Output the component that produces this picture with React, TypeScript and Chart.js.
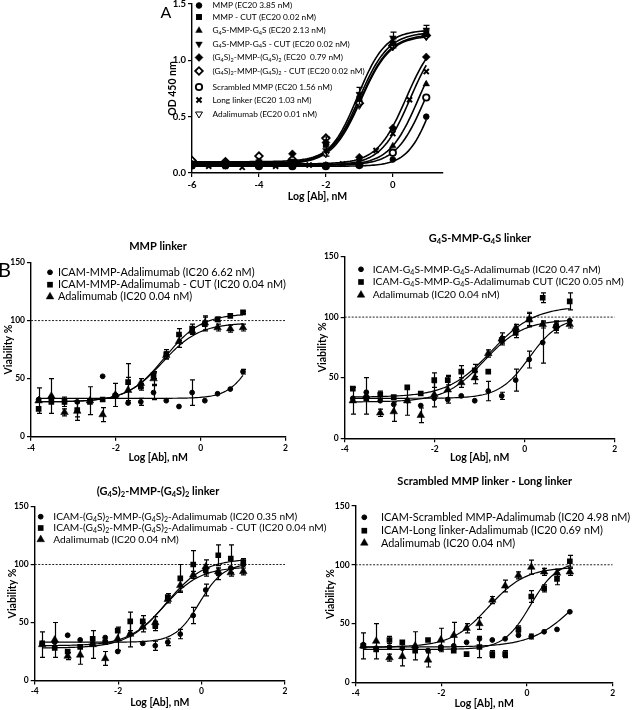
import React, { useEffect, useRef } from "react";
import { Chart, registerables } from "chart.js";
import { drawPoint } from "chart.js/helpers";

Chart.register(...registerables);

const FONT = "Lato, 'Open Sans', 'DejaVu Sans', sans-serif";

// ---------------- Panel A (OD 450 nm) ----------------
const aDoses = [-6, -5, -4, -3, -2, -1, 0, 1];
const aDosesLong = [-6, -5.5, -5, -4.5, -4, -3.5, -3, -2.5, -2, -1.5, -1, -0.5, 0, 0.5, 1];
const aXTicks = [-6, -4, -2, 0];
const aYTicks = [0, 0.5, 1.0, 1.5];

const aMMP = [0.06, 0.06, 0.06, 0.06, 0.06, 0.07, 0.12, 0.5];
const aMMPCut = [0.08, 0.08, 0.09, 0.1, 0.25, 0.66, 1.15, 1.24];
const aMMPCutErr = [0, 0, 0, 0, 0.07, 0.05, 0.04, 0.03];
const aG4S = [0.07, 0.07, 0.07, 0.07, 0.07, 0.08, 0.24, 0.79];
const aG4SCut = [0.09, 0.09, 0.1, 0.1, 0.2, 0.7, 1.2, 1.27];
const aG4SCutErr = [0, 0, 0, 0, 0.05, 0.06, 0.05, 0.04];
const aG4S2 = [0.08, 0.09, 0.1, 0.17, 0.27, 0.14, 0.4, 1.03];
const aG4S2Cut = [0.11, 0.1, 0.15, 0.12, 0.31, 0.62, 1.13, 1.22];
const aScrambled = [0.07, 0.07, 0.06, 0.06, 0.06, 0.07, 0.18, 0.67];
const aLong = [0.06, 0.06, 0.06, 0.05, 0.06, 0.06, 0.06, 0.07, 0.07, 0.08, 0.1, 0.2, 0.35, 0.65, 0.9];
const aAda = [0.08, 0.08, 0.08, 0.09, 0.17, 0.6, 1.12, 1.21];

// fitted 4PL curves: [bottom, top, logEC50, hill]
const aFitMMP = [0.06, 1.25, 1.24, 1.15];
const aFitMMPCut = [0.08, 1.25, -1.0, 1.0];
const aFitG4S = [0.07, 1.25, 0.77, 1.0];
const aFitG4SCut = [0.09, 1.27, -1.05, 1.05];
const aFitG4S2 = [0.08, 1.25, 0.4, 1.0];
const aFitG4S2Cut = [0.1, 1.23, -0.95, 1.0];
const aFitScrambled = [0.07, 1.25, 0.97, 1.0];
const aFitLong = [0.07, 1.25, 0.52, 1.0];
const aFitAda = [0.08, 1.22, -0.95, 1.0];

// ---------------- Panel B (Viability %) ----------------
const bDoses = [-3.82, -3.52, -3.21, -2.91, -2.61, -2.31, -2.01, -1.71, -1.41, -1.11, -0.81, -0.51, -0.2, 0.1, 0.4, 0.7, 1.0];
const bXTicks = [-4, -2, 0, 2];
const bYTicks = [0, 50, 100, 150];

const bAda = [31, 35, 21, 22, 31, 19, 36, 40, 46, 50, 70, 82, 91, 98, 94, 93, 94];
const bAdaErr = [11, 15, 3, 8, 12, 6, 10, 11, 4, 5, 3, 5, 3, 6, 3, 3, 3];
const bFitAda = [30, 98, -0.9, 1.0];

const bMMP = [32, 34, 30, 30, 31, 52, 36, 29, 30, 38, 31, 26, 38, 31, 37, 41, 56];
const bMMPErr = [0, 0, 0, 0, 0, 0, 0, 0, 3, 6, 0, 0, 11, 0, 0, 0, 2];
const bMMPCut = [24, 30, 30, 23, 30, 32, 35, 47, 43, 53, 71, 88, 93, 97, 101, 104, 107];
const bMMPCutErr = [0, 0, 4, 6, 0, 0, 0, 16, 3, 3, 4, 5, 4, 6, 2, 1, 1];
const bFitMMP = [33, 100, 1.25, 1.5];
const bFitMMPCut = [30, 106, -0.85, 1.0];

const bG4S = [33, 38, 31, 28, 31, 27, 33, 32, 35, 31, 39, 35, 48, 65, 79, 92, 97];
const bG4SErr = [0, 0, 0, 0, 0, 0, 0, 0, 0, 0, 8, 3, 9, 7, 17, 5, 0];
const bG4SCut = [41, 33, 36, 34, 42, 37, 48, 48, 55, 56, 55, 81, 87, 98, 116, 92, 113];
const bG4SCutErr = [0, 0, 3, 0, 0, 0, 6, 4, 5, 5, 0, 3, 4, 5, 4, 3, 7];
const bFitG4S = [33, 100, 0.1, 1.3];
const bFitG4SCut = [34, 109, -0.75, 0.9];

const bG4S2 = [32, 33, 39, 35, 32, 37, 25, 40, 32, 30, 33, 40, 56, 78, 92, 97, 100];
const bG4S2Err = [0, 0, 0, 0, 0, 0, 0, 0, 0, 4, 3, 4, 7, 5, 5, 0, 0];
const bG4S2Cut = [32, 28, 25, 29, 36, 33, 43, 51, 51, 47, 72, 88, 100, 95, 108, 105, 102];
const bG4S2CutErr = [0, 0, 0, 0, 0, 0, 0, 8, 5, 4, 3, 12, 12, 5, 9, 12, 3];
const bFitG4S2 = [33, 101, -0.05, 1.5];
const bFitG4S2Cut = [28, 105, -0.85, 0.95];

const bScr = [32, 29, 30, 29, 30, 27, 30, 31, 34, 37, 36, 37, 40, 39, 43, 45, 60];
const bScrErr = [0, 0, 0, 0, 0, 0, 0, 0, 0, 0, 0, 0, 0, 2, 0, 0, 0];
const bLong = [31, 28, 36, 34, 27, 36, 29, 27, 24, 30, 24, 24, 45, 73, 80, 88, 103];
const bLongErr = [0, 0, 3, 0, 0, 0, 0, 0, 0, 9, 3, 3, 3, 5, 3, 5, 5];
const bFitScr = [30, 100, 1.13, 0.85];
const bFitLong = [28, 103, 0.08, 1.4];

const bRefLine = [100, 100];
const bRefX = [-4, 2];

// ---------------- helpers ----------------
type Mk = { style: string; radius: number; rotation?: number; open?: boolean; bw?: number };

const MA: Record<string, Mk> = {
  dot: { style: "circle", radius: 2.8, bw: 1 },
  square: { style: "rect", radius: 4.2, bw: 0 },
  tri: { style: "triangle", radius: 3.8, bw: 0.5 },
  triDown: { style: "triangle", radius: 3.8, rotation: 180, bw: 0.5 },
  diamond: { style: "rectRot", radius: 4, bw: 0.5 },
  diamondOpen: { style: "rectRot", radius: 3.8, open: true, bw: 1.8 },
  ring: { style: "circle", radius: 3.2, open: true, bw: 1.8 },
  cross: { style: "crossRot", radius: 3.6, bw: 2 },
  triOpen: { style: "triangle", radius: 4, rotation: 180, open: true, bw: 1 },
};
const MB: Record<string, Mk> = {
  dot: { style: "circle", radius: 2.4, bw: 1 },
  square: { style: "rect", radius: 4, bw: 0 },
  tri: { style: "triangle", radius: 4.4, bw: 0.5 },
};

function pts(xs: number[], ys: number[]) {
  return xs.map((x, i) => ({ x, y: ys[i] }));
}
function fourPL(fit: number[], x: number) {
  const [b, t, ec, h] = fit;
  return b + (t - b) / (1 + Math.pow(10, (ec - x) * h));
}
function curve(fit: number[], x0: number, x1: number) {
  const out: { x: number; y: number }[] = [];
  const n = 120;
  for (let i = 0; i <= n; i++) {
    const x = x0 + ((x1 - x0) * i) / n;
    out.push({ x, y: fourPL(fit, x) });
  }
  return out;
}
function markerDs(xs: number[], ys: number[], mk: Mk, errs?: number[]) {
  return {
    data: pts(xs, ys),
    showLine: false,
    pointStyle: mk.style,
    pointRadius: mk.radius,
    pointRotation: mk.rotation || 0,
    pointBackgroundColor: mk.open ? "#fff" : "#000",
    pointBorderColor: "#000",
    pointBorderWidth: mk.bw ?? 1,
    errors: errs,
    order: 0,
  };
}
function curveDs(fit: number[], x0: number, x1: number, w = 1.2) {
  return {
    data: curve(fit, x0, x1),
    showLine: true,
    borderColor: "#000",
    borderWidth: w,
    pointRadius: 0,
    order: 2,
  };
}
function refDs() {
  return {
    data: pts(bRefX, bRefLine),
    showLine: true,
    borderColor: "#222",
    borderWidth: 1,
    borderDash: [2, 1.5],
    pointRadius: 0,
    order: 3,
  };
}

// rich text: Unicode subscript digits drawn as small lowered digits
const SUBS = "₀₁₂₃₄₅₆₇₈₉";
function splitRuns(text: string) {
  const runs: { t: string; sub: boolean }[] = [];
  for (const ch of text) {
    const k = SUBS.indexOf(ch);
    const sub = k >= 0;
    const c = sub ? String(k) : ch;
    const last = runs[runs.length - 1];
    if (last && last.sub === sub) last.t += c;
    else runs.push({ t: c, sub });
  }
  return runs;
}
function drawRich(ctx: CanvasRenderingContext2D, text: string, x: number, y: number, size: number, weight: string, align: string) {
  const runs = splitRuns(text);
  const fMain = `${weight} ${size}px ${FONT}`;
  const fSub = `${weight} ${size * 0.68}px ${FONT}`;
  let total = 0;
  const widths = runs.map((r) => {
    ctx.font = r.sub ? fSub : fMain;
    const w = ctx.measureText(r.t).width;
    total += w;
    return w;
  });
  let cx = align === "center" ? x - total / 2 : align === "right" ? x - total : x;
  ctx.textAlign = "left";
  runs.forEach((r, i) => {
    ctx.font = r.sub ? fSub : fMain;
    ctx.fillText(r.t, cx, r.sub ? y + size * 0.3 : y);
    cx += widths[i];
  });
}

type TextItem = { text: string; x: number; y: number; size: number; weight?: string; align?: string };
type LegendCfg = { mx: number; tx: number; rows: number[]; size: number; items: { label: string; mk: Mk }[] };
type Decor = { texts: TextItem[]; legend: LegendCfg; cap: number };

function makeDecor(d: Decor) {
  return {
    id: "decor",
    afterDatasetsDraw(chart: any) {
      const ctx = chart.ctx as CanvasRenderingContext2D;
      const xs = chart.scales.x;
      const ys = chart.scales.y;
      chart.data.datasets.forEach((ds: any) => {
        const errs: number[] | undefined = ds.errors;
        if (!errs) return;
        ctx.save();
        ctx.strokeStyle = "#000";
        ctx.lineWidth = 1.2;
        ds.data.forEach((p: any, j: number) => {
          const e = errs[j];
          if (!e) return;
          const px = Math.round(xs.getPixelForValue(p.x)) + 0.5;
          const y1 = ys.getPixelForValue(p.y + e);
          const y2 = ys.getPixelForValue(p.y - e);
          ctx.beginPath();
          ctx.moveTo(px, y1);
          ctx.lineTo(px, y2);
          ctx.moveTo(px - d.cap, y1);
          ctx.lineTo(px + d.cap, y1);
          ctx.moveTo(px - d.cap, y2);
          ctx.lineTo(px + d.cap, y2);
          ctx.stroke();
        });
        ctx.restore();
      });
    },
    afterDraw(chart: any) {
      const ctx = chart.ctx as CanvasRenderingContext2D;
      ctx.save();
      ctx.fillStyle = "#000";
      ctx.textBaseline = "middle";
      d.texts.forEach((t) => {
        drawRich(ctx, t.text, t.x, t.y, t.size, t.weight || "normal", t.align || "center");
      });
      const L = d.legend;
      L.items.forEach((it, i) => {
        const y = L.rows[i];
        ctx.fillStyle = it.mk.open ? "#fff" : "#000";
        ctx.strokeStyle = "#000";
        ctx.lineWidth = it.mk.bw ?? 1;
        drawPoint(ctx, { pointStyle: it.mk.style as any, radius: it.mk.radius, rotation: it.mk.rotation || 0, borderWidth: it.mk.bw ?? 1 } as any, L.mx, y);
        ctx.fillStyle = "#000";
        drawRich(ctx, it.label, L.tx, y, L.size, "normal", "left");
      });
      ctx.restore();
    },
  };
}

type PanelCfg = {
  datasets: any[];
  xMin: number;
  xMax: number;
  yMin: number;
  yMax: number;
  xTicks: number[];
  yTicks: number[];
  yFmt: (v: number) => string;
  yTitle: string;
  padTop: number;
  padRight: number;
  yWidth: number;
  xHeight: number;
  yTitlePad: number;
  xTitlePad: number;
  tickSize: number;
  titleSize: number;
  decor: Decor;
};

function buildConfig(c: PanelCfg): any {
  const tickFont = { family: FONT, size: c.tickSize, weight: "bold" as const };
  const titleFont = { family: FONT, size: c.titleSize, weight: "bold" as const };
  const grid = { display: true, drawOnChartArea: false, drawTicks: true, tickLength: 4, color: "#000", lineWidth: 1.2 };
  const border = { display: true, color: "#000", width: 1.4 };
  return {
    type: "scatter",
    data: { datasets: c.datasets },
    options: {
      responsive: false,
      animation: false,
      devicePixelRatio: 1,
      events: [],
      layout: { padding: { left: 0, top: c.padTop, right: c.padRight, bottom: 0 } },
      plugins: { legend: { display: false }, tooltip: { enabled: false }, title: { display: false } },
      scales: {
        x: {
          type: "linear",
          min: c.xMin,
          max: c.xMax,
          afterBuildTicks: (s: any) => {
            s.ticks = c.xTicks.map((v) => ({ value: v }));
          },
          afterFit: (s: any) => {
            s.height = c.xHeight;
          },
          grid,
          border,
          ticks: { color: "#000", font: tickFont, padding: 2, maxRotation: 0, autoSkip: false, callback: (v: any) => String(v) },
          title: { display: true, text: "Log [Ab], nM", color: "#000", font: titleFont, padding: { top: 0, bottom: c.xTitlePad } },
        },
        y: {
          type: "linear",
          min: c.yMin,
          max: c.yMax,
          afterBuildTicks: (s: any) => {
            s.ticks = c.yTicks.map((v) => ({ value: v }));
          },
          afterFit: (s: any) => {
            s.width = c.yWidth;
          },
          grid,
          border,
          ticks: { color: "#000", font: tickFont, padding: 2, autoSkip: false, callback: (v: any) => c.yFmt(Number(v)) },
          title: { display: true, text: c.yTitle, color: "#000", font: titleFont, padding: { top: c.yTitlePad, bottom: 0 } },
        },
      },
    },
    plugins: [makeDecor(c.decor)],
  };
}

function Panel(props: { left: number; top: number; width: number; height: number; cfg: PanelCfg }) {
  const ref = useRef<HTMLCanvasElement>(null);
  useEffect(() => {
    const chart = new Chart(ref.current as HTMLCanvasElement, buildConfig(props.cfg));
    return () => chart.destroy();
  }, []);
  return (
    <canvas
      ref={ref}
      width={props.width}
      height={props.height}
      style={{ position: "absolute", left: props.left, top: props.top, width: props.width, height: props.height }}
    />
  );
}

// ---------------- panel configs ----------------
function panelA(left: number, top: number): PanelCfg {
  const rows = [5.5, 17, 30.5, 44, 57.5, 71, 87, 100, 114].map((y) => y - top);
  return {
    datasets: [
      markerDs(aDoses, aMMP, MA.dot),
      markerDs(aDoses, aMMPCut, MA.square, aMMPCutErr),
      markerDs(aDoses, aG4S, MA.tri),
      markerDs(aDoses, aG4SCut, MA.triDown, aG4SCutErr),
      markerDs(aDoses, aG4S2, MA.diamond),
      markerDs(aDoses, aG4S2Cut, MA.diamondOpen),
      markerDs(aDoses, aScrambled, MA.ring),
      markerDs(aDosesLong, aLong, MA.cross),
      markerDs(aDoses, aAda, MA.triOpen),
      curveDs(aFitMMP, -6, 1, 1.6),
      curveDs(aFitMMPCut, -6, 1, 1.6),
      curveDs(aFitG4S, -6, 1, 1.6),
      curveDs(aFitG4SCut, -6, 1, 1.6),
      curveDs(aFitG4S2, -6, 1, 1.6),
      curveDs(aFitG4S2Cut, -6, 1, 1.6),
      curveDs(aFitScrambled, -6, 1, 1.6),
      curveDs(aFitLong, -6, 1, 1.6),
      curveDs(aFitAda, -6, 1, 1.6),
    ],
    xMin: -6,
    xMax: 1.5,
    yMin: 0,
    yMax: 1.5,
    xTicks: aXTicks,
    yTicks: aYTicks,
    yFmt: (v) => v.toFixed(1),
    yTitle: "OD 450 nm",
    padTop: 4 - top,
    padRight: left + 300 - 443,
    yWidth: 192 - left,
    xHeight: 205 - 173,
    yTitlePad: 16,
    xTitlePad: 2,
    tickSize: 9.5,
    titleSize: 10.5,
    decor: {
      cap: 3,
      texts: [{ text: "A", x: 166 - left, y: 12.5 - top, size: 16 }],
      legend: {
        mx: 199 - left,
        tx: 212.5 - left,
        rows,
        size: 8.3,
        items: [
          { label: "MMP (EC20 3.85 nM)", mk: MA.dot },
          { label: "MMP - CUT (EC20 0.02 nM)", mk: MA.square },
          { label: "G₄S-MMP-G₄S (EC20 2.13 nM)", mk: MA.tri },
          { label: "G₄S-MMP-G₄S - CUT (EC20 0.02 nM)", mk: MA.triDown },
          { label: "(G₄S)₂-MMP-(G₄S)₂ (EC20  0.79 nM)", mk: MA.diamond },
          { label: "(G₄S)₂-MMP-(G₄S)₂ - CUT (EC20 0.02 nM)", mk: MA.diamondOpen },
          { label: "Scrambled MMP (EC20 1.56 nM)", mk: MA.ring },
          { label: "Long linker (EC20 1.03 nM)", mk: MA.cross },
          { label: "Adalimumab (EC20 0.01 nM)", mk: MA.triOpen },
        ],
      },
    },
  };
}

type BOpts = {
  left: number;
  top: number;
  width: number;
  height: number;
  area: { l: number; r: number; t: number; b: number };
  yTitleX: number;
  xTitleY: number;
  title: string;
  titleX: number;
  titleY: number;
  legend: { mx: number; tx: number; rows: number[]; size: number };
  labels: string[];
  s1: number[];
  s1Err: number[];
  fit1: number[];
  s2: number[];
  s2Err: number[];
  fit2: number[];
  extraTexts?: TextItem[];
};

function panelB(o: BOpts): PanelCfg {
  const lh = 12.6;
  return {
    datasets: [
      markerDs(bDoses, o.s1, MB.dot, o.s1Err),
      markerDs(bDoses, o.s2, MB.square, o.s2Err),
      markerDs(bDoses, bAda, MB.tri, bAdaErr),
      curveDs(o.fit1, -3.82, 1.0),
      curveDs(o.fit2, -3.82, 1.0),
      curveDs(bFitAda, -3.82, 1.0),
      refDs(),
    ],
    xMin: -4,
    xMax: 2,
    yMin: 0,
    yMax: 150,
    xTicks: bXTicks,
    yTicks: bYTicks,
    yFmt: (v) => String(v),
    yTitle: "Viability %",
    padTop: o.area.t - o.top,
    padRight: o.left + o.width - o.area.r,
    yWidth: o.area.l - o.left,
    xHeight: o.top + o.height - o.area.b,
    yTitlePad: Math.max(0, o.yTitleX - o.left - lh / 2),
    xTitlePad: Math.max(0, o.top + o.height - o.xTitleY - lh / 2),
    tickSize: 8.5,
    titleSize: 10.5,
    decor: {
      cap: 2.5,
      texts: [
        { text: o.title, x: o.titleX - o.left, y: o.titleY - o.top, size: 11, weight: "bold" },
        ...(o.extraTexts || []).map((t) => ({ ...t, x: t.x - o.left, y: t.y - o.top })),
      ],
      legend: {
        mx: o.legend.mx - o.left,
        tx: o.legend.tx - o.left,
        rows: o.legend.rows.map((y) => y - o.top),
        size: o.legend.size,
        items: [
          { label: o.labels[0], mk: MB.dot },
          { label: o.labels[1], mk: MB.square },
          { label: o.labels[2], mk: MB.tri },
        ],
      },
    },
  };
}

const cfgA = panelA(150, -6);

const cfgTL = panelB({
  left: 0,
  top: 225,
  width: 316,
  height: 240,
  area: { l: 31, r: 285.4, t: 262.5, b: 436.7 },
  yTitleX: 9,
  xTitleY: 458,
  title: "MMP linker",
  titleX: 158,
  titleY: 246,
  legend: { mx: 50, tx: 58, rows: [272.3, 284.7, 296.7], size: 10.9 },
  labels: ["ICAM-MMP-Adalimumab (IC20 6.62 nM)", "ICAM-MMP-Adalimumab - CUT (IC20 0.04 nM)", "Adalimumab (IC20 0.04 nM)"],
  s1: bMMP,
  s1Err: bMMPErr,
  fit1: bFitMMP,
  s2: bMMPCut,
  s2Err: bMMPCutErr,
  fit2: bFitMMPCut,
  extraTexts: [{ text: "B", x: 4.5, y: 271, size: 20 }],
});

const cfgTR = panelB({
  left: 316,
  top: 225,
  width: 320,
  height: 240,
  area: { l: 344.7, r: 614.7, t: 256.5, b: 438.3 },
  yTitleX: 322,
  xTitleY: 458,
  title: "G₄S-MMP-G₄S linker",
  titleX: 480,
  titleY: 238,
  legend: { mx: 361, tx: 372.7, rows: [269.3, 282, 295], size: 10.3 },
  labels: ["ICAM-G₄S-MMP-G₄S-Adalimumab (IC20 0.47 nM)", "ICAM-G₄S-MMP-G₄S-Adalimumab CUT (IC20 0.05 nM)", "Adalimumab (IC20 0.04 nM)"],
  s1: bG4S,
  s1Err: bG4SErr,
  fit1: bFitG4S,
  s2: bG4SCut,
  s2Err: bG4SCutErr,
  fit2: bFitG4SCut,
});

const cfgBL = panelB({
  left: 0,
  top: 465,
  width: 340,
  height: 245,
  area: { l: 34.7, r: 285, t: 506.5, b: 680.5 },
  yTitleX: 13,
  xTitleY: 703,
  title: "(G₄S)₂-MMP-(G₄S)₂ linker",
  titleX: 158,
  titleY: 491.7,
  legend: { mx: 40.7, tx: 53.3, rows: [516.7, 528, 539.5], size: 10.2 },
  labels: [
    "ICAM-(G₄S)₂-MMP-(G₄S)₂-Adalimumab (IC20 0.35 nM)",
    "ICAM-(G₄S)₂-MMP-(G₄S)₂-Adalimumab - CUT (IC20 0.04 nM)",
    "Adalimumab (IC20 0.04 nM)",
  ],
  s1: bG4S2,
  s1Err: bG4S2Err,
  fit1: bFitG4S2,
  s2: bG4S2Cut,
  s2Err: bG4S2CutErr,
  fit2: bFitG4S2Cut,
});

const cfgBR = panelB({
  left: 316,
  top: 465,
  width: 320,
  height: 245,
  area: { l: 355.6, r: 612.7, t: 506, b: 682.3 },
  yTitleX: 331,
  xTitleY: 705,
  title: "Scrambled MMP linker - Long linker",
  titleX: 484.7,
  titleY: 481.7,
  legend: { mx: 364.3, tx: 381, rows: [517.3, 530.7, 543], size: 10.9 },
  labels: ["ICAM-Scrambled MMP-Adalimumab (IC20 4.98 nM)", "ICAM-Long linker-Adalimumab (IC20 0.69 nM)", "Adalimumab (IC20 0.04 nM)"],
  s1: bScr,
  s1Err: bScrErr,
  fit1: bFitScr,
  s2: bLong,
  s2Err: bLongErr,
  fit2: bFitLong,
});

export default function App() {
  return (
    <div style={{ position: "absolute", left: 0, top: 0, width: 636, height: 710, background: "#fff", overflow: "hidden" }}>
      <Panel left={150} top={-6} width={300} height={211} cfg={cfgA} />
      <Panel left={0} top={225} width={316} height={240} cfg={cfgTL} />
      <Panel left={316} top={225} width={320} height={240} cfg={cfgTR} />
      <Panel left={0} top={465} width={340} height={245} cfg={cfgBL} />
      <Panel left={316} top={465} width={320} height={245} cfg={cfgBR} />
    </div>
  );
}
